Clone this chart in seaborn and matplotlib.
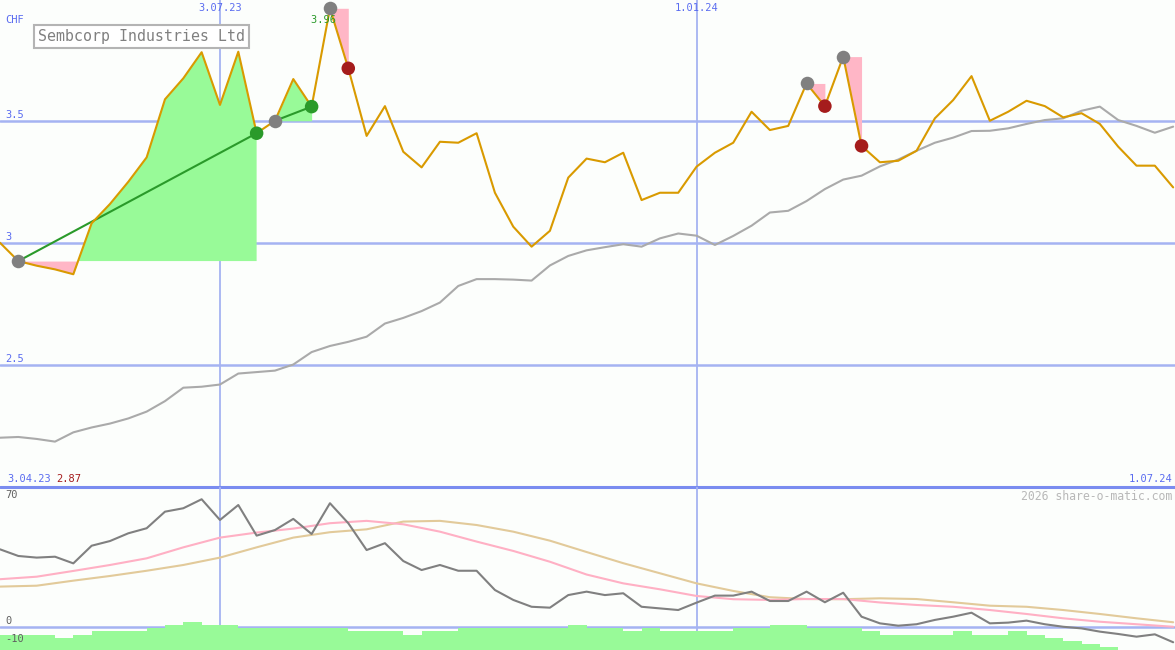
import numpy as np
import pandas as pd
import matplotlib.pyplot as plt
import matplotlib.transforms as mtransforms
import seaborn as sns

sns.set_style("white")
plt.rcParams['font.family'] = ['DejaVu Sans Mono']

''' DATA (weekly, Mondays 10.04.23 - 1.07.24)
'''
dates = pd.date_range('2023-04-10', periods=65, freq='7D')

price = [3.001, 2.926, 2.907, 2.892, 2.872, 3.081, 3.160, 3.251, 3.351, 3.589,
         3.675, 3.782, 3.566, 3.784, 3.450, 3.501, 3.672, 3.559, 3.962, 3.716,
         3.439, 3.561, 3.374, 3.310, 3.415, 3.411, 3.450, 3.206, 3.067, 2.985,
         3.050, 3.268, 3.346, 3.331, 3.370, 3.176, 3.206, 3.206, 3.313, 3.370,
         3.411, 3.538, 3.463, 3.480, 3.654, 3.561, 3.764, 3.398, 3.331, 3.337,
         3.378, 3.511, 3.586, 3.684, 3.501, 3.538, 3.583, 3.561, 3.515, 3.532,
         3.488, 3.395, 3.317, 3.317, 3.228]

ma = [2.202, 2.205, 2.197, 2.186, 2.224, 2.244, 2.260, 2.281, 2.309, 2.352,
      2.407, 2.411, 2.420, 2.465, 2.471, 2.477, 2.502, 2.553, 2.578, 2.595,
      2.616, 2.670, 2.693, 2.721, 2.756, 2.824, 2.852, 2.852, 2.850, 2.846,
      2.908, 2.947, 2.970, 2.983, 2.995, 2.985, 3.019, 3.039, 3.030, 2.992,
      3.029, 3.071, 3.125, 3.132, 3.172, 3.221, 3.260, 3.276, 3.314, 3.342,
      3.378, 3.411, 3.432, 3.459, 3.460, 3.470, 3.488, 3.504, 3.511, 3.542,
      3.559, 3.504, 3.480, 3.452, 3.477]

osc = [43.3, 39.6, 38.7, 39.2, 35.5, 45.3, 47.9, 52.2, 55.0, 64.2,
       66.1, 71.1, 59.6, 67.9, 50.9, 54.0, 60.2, 51.8, 68.9, 57.8,
       42.9, 46.7, 36.8, 31.8, 34.6, 31.4, 31.4, 20.7, 15.2, 11.4,
       10.9, 17.9, 19.8, 17.9, 18.9, 11.4, 10.5, 9.6, 13.7, 17.6,
       17.6, 19.8, 14.6, 14.6, 19.8, 13.9, 19.2, 5.9, 2.2, 0.9,
       1.7, 4.1, 5.9, 8.1, 2.2, 2.6, 3.7, 1.7, 0.3, -0.6,
       -2.4, -3.7, -5.2, -3.9, -8.3]

# smooth signal lines, read every 2 weeks
sig_pink = [26.7, 28.1, 31.3, 34.6, 38.3, 44.4, 49.8, 52.6, 54.8, 57.8, 59.1,
            57.2, 53.1, 47.6, 42.4, 36.4, 29.3, 24.4, 21.1, 17.4, 15.6, 15.2,
            15.7, 15.7, 13.8, 12.4, 11.4, 9.6, 7.4, 5.0, 3.1, 1.7, 0.3]
sig_tan = [22.6, 23.1, 25.9, 28.5, 31.4, 34.6, 38.7, 44.4, 49.8, 52.8, 54.4,
           58.7, 59.1, 56.8, 53.1, 48.1, 41.8, 35.6, 30.0, 24.4, 20.2, 16.7,
           15.7, 15.6, 16.1, 15.7, 13.9, 12.0, 11.4, 9.6, 7.4, 5.0, 2.8]

hist = [-4.3, -4.3, -4.3, -5.8, -4.3, -1.9, -1.9, -1.9, -0.2, 1.3,
        2.8, 1.3, 1.3, -0.2, -0.2, -0.2, -0.2, -0.2, -0.2, -1.9,
        -1.9, -1.9, -4.3, -1.9, -1.9, -0.2, -0.2, -0.2, -0.2, -0.2,
        -0.2, 1.3, -0.2, -0.2, -1.9, -0.2, -1.9, -1.9, -1.9, -1.9,
        -0.2, -0.2, 1.3, 1.3, -0.2, -0.2, -0.2, -1.9, -4.3, -4.3,
        -4.3, -4.3, -1.9, -4.3, -4.3, -1.9, -4.3, -5.8, -7.6, -9.3,
        -10.8, -13.0, -14.5, -16.0]

# trades: entry week, exit week
entries = [1, 15, 18, 44, 46]
exits = [14, 17, 19, 45, 47]

price_levels = [3.5, 3.0, 2.5]
price_labels = ['3.5', '3', '2.5']
date_lines = ['2023-07-03', '2024-01-01']
date_labels = ['3.07.23', '1.01.24']

''' STYLE
'''
bg = '#fcfefc'
grid_c = '#a5b3f2'
border_c = '#7a8cf0'
label_c = '#5a6cf0'
orange = '#d99a00'
green_fill = '#98fa98'
pink_fill = '#ffb6c6'
px = 1 / 1175

fig = plt.figure(figsize=(11.75, 6.5), dpi=100, facecolor=bg)
ax = fig.add_axes([0, 163 / 650, 1, 487 / 650])
ax2 = fig.add_axes([0, 0, 1, 163 / 650])
x0 = dates[0]
x1 = dates[0] + pd.Timedelta(days=448.7)

price_a = np.array(price)

#MAIN PRICE PANEL
ax.set_facecolor(bg)
for lv in price_levels:
    ax.axhline(lv, color=grid_c, lw=1.8, zorder=1)
for d in date_lines:
    ax.axvline(pd.Timestamp(d), color=grid_c, lw=1.3, zorder=1)
ax.axhline(2.0, color=border_c, lw=2.2, zorder=6, clip_on=False)

for e, x in zip(entries, exits):
    sub = slice(e, x + 1)
    lvl = price[e]
    ax.fill_between(dates[sub], lvl, price_a[sub], where=price_a[sub] >= lvl,
                    interpolate=True, color=green_fill, lw=0, zorder=2)
    ax.fill_between(dates[sub], lvl, price_a[sub], where=price_a[sub] <= lvl,
                    interpolate=True, color=pink_fill, lw=0, zorder=2)
    if price[x] > lvl:
        ax.plot([dates[e], dates[x]], [lvl, price[x]], color='#2a9a2a', lw=1.5, zorder=3)

sns.lineplot(x=dates, y=ma, ax=ax, color='#aaaaaa', linewidth=1.5, zorder=3)
sns.lineplot(x=dates, y=price, ax=ax, color=orange, linewidth=1.5, zorder=4)

ax.scatter(dates[entries], price_a[entries], s=95, color='#808080', zorder=5, lw=0)
ex_col = ['#2a9a2a' if price[x] > price[e] else '#a51c1c' for e, x in zip(entries, exits)]
ax.scatter(dates[exits], price_a[exits], s=95, color=ex_col, zorder=5, lw=0)

ax.set_xlim(x0, x1)
ax.set_ylim(2.0, 3.996)
ax.set_axis_off()

tr_y = mtransforms.blended_transform_factory(ax.transAxes, ax.transData)
tr_x = mtransforms.blended_transform_factory(ax.transData, ax.transAxes)
for lv, lab in zip(price_levels, price_labels):
    ax.text(5 * px, lv + 0.006, lab, transform=tr_y, color=label_c, fontsize=7.5, va='bottom')
for d, lab in zip(date_lines, date_labels):
    ax.text(pd.Timestamp(d), 1 - 8 / 487, lab, transform=tr_x, color=label_c,
            fontsize=7.5, ha='center', va='center')
ax.text(5 * px, 1 - 20 / 487, 'CHF', transform=ax.transAxes, color=label_c, fontsize=7.5, va='center')
ax.text(dates[int(np.argmax(price_a))], 1 - 20 / 487, '%.2f  ' % price_a.max(), transform=tr_x,
        color='#2a9a2a', fontsize=7.5, ha='center', va='center', zorder=4)
ax.text(7 * px, 2.0 + 3 / 244, '3.04.23', transform=tr_y, color=label_c, fontsize=7.5, va='bottom')
ax.text(56 * px, 2.0 + 3 / 244, '%.2f' % price_a.min(), transform=tr_y, color='#a51c1c',
        fontsize=7.5, va='bottom')
ax.text(1 - 3 * px, 2.0 + 3 / 244, '1.07.24', transform=tr_y, color=label_c, fontsize=7.5,
        va='bottom', ha='right')
ax.text(38 * px, 1 - 36.5 / 487, 'Sembcorp Industries Ltd', transform=ax.transAxes,
        color='#808080', fontsize=10.7, va='center', zorder=7,
        bbox=dict(boxstyle='square,pad=0.3', facecolor='white', edgecolor='#b4b4b4', lw=1.5))

#LOWER INDICATOR PANEL
ax2.set_facecolor(bg)
for d in date_lines:
    ax2.axvline(pd.Timestamp(d), color=grid_c, lw=1.3, zorder=1)
ax2.axhline(0, color=grid_c, lw=1.8, zorder=1)
ax2.bar(dates[:-1], np.array(hist) + 30, bottom=-30, width=7, align='edge',
        color=green_fill, lw=0, zorder=2)
sns.lineplot(x=dates[::2], y=sig_tan, ax=ax2, color='#e2ca9a', linewidth=1.5, zorder=3)
sns.lineplot(x=dates[::2], y=sig_pink, ax=ax2, color='#ffb0c4', linewidth=1.5, zorder=3)
sns.lineplot(x=dates, y=osc, ax=ax2, color='#808080', linewidth=1.5, zorder=4)
ax2.set_xlim(x0, x1)
ax2.set_ylim(-12.6, 77.9)
ax2.set_axis_off()

tr2 = mtransforms.blended_transform_factory(ax2.transAxes, ax2.transData)
for lv in [70, 0, -10]:
    ax2.text(5 * px, lv + 0.6, str(lv), transform=tr2, color='#606060', fontsize=7.5,
             va='bottom', zorder=5)
ax2.text(1 - 3 * px, 1 - 9 / 163, '2026 share-o-matic.com', transform=ax2.transAxes,
         color='#b8b8b8', fontsize=8.3, ha='right', va='center')

plt.savefig('out.png', dpi=100, facecolor=bg)
